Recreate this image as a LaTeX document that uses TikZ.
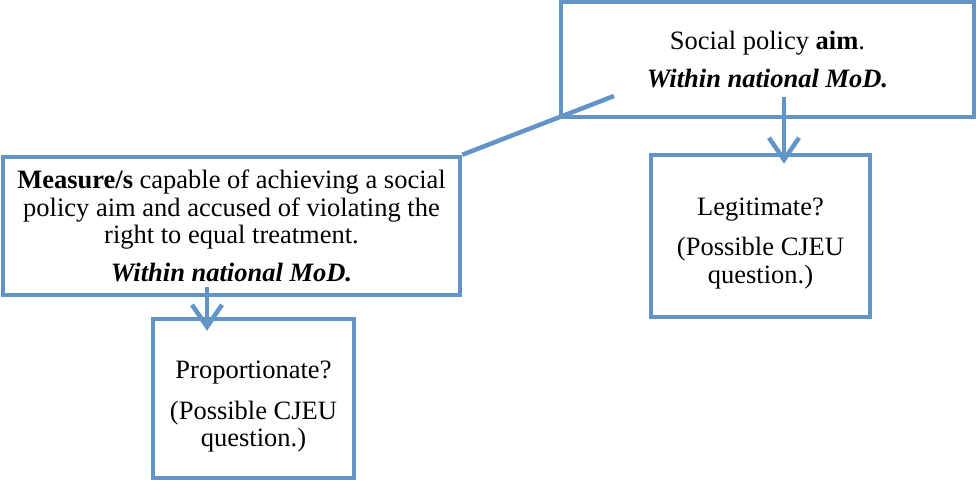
\documentclass[tikz,border=0pt]{standalone}
\usepackage{fontspec}
\setmainfont{Liberation Serif}
\usepackage{xcolor}
\usetikzlibrary{arrows.meta,positioning,calc}
\definecolor{boxblue}{RGB}{98,148,200}

\begin{document}
\begin{tikzpicture}[x=1pt, y=-1pt,
    box/.style={draw=boxblue, line width=4.5pt, fill=white, inner sep=0pt, align=center,
      font=\fontsize{26.5}{27.5}\selectfont},
    flow/.style={draw=boxblue, line width=4.5pt, -{Straight Barb[length=22pt, width=30pt, line width=4.5pt]}},
    link/.style={draw=boxblue, line width=4.5pt}]
  \useasboundingbox (0,0) rectangle (977,483);

  % Boxes
  \node[box, minimum width=413pt, minimum height=115pt] (aim) at (767.5,59.5)
    {Social policy \textbf{aim}.\\[11pt] \textbf{\textit{Within national MoD.}}};
  \node[box, minimum width=457pt, minimum height=138pt] (measure) at (231.5,226)
    {\textbf{Measure/s} capable of achieving a social\\ policy aim and accused of violating the\\
     right to equal treatment.\\[10pt] \textbf{\textit{Within national MoD.}}};
  \node[box, minimum width=219pt, minimum height=162pt] (legit) at (760.5,236)
    {\rule{0pt}{32pt}Legitimate?\\[13pt] (Possible CJEU\\ question.)};
  \node[box, minimum width=201pt, minimum height=159pt] (prop) at (253.5,398.5)
    {\rule{0pt}{34pt}Proportionate?\\[13pt] (Possible CJEU\\ question.)};

  % Connectors
  \coordinate (aimtail) at (614,96);
  \coordinate (aimdrop) at (784,97);
  \coordinate (measdrop) at (207,287);
  \draw[link] (aimtail) -- (measure.north east);
  \draw[flow] (aimdrop) -- ([yshift=-11pt]aimdrop |- legit.north);
  \draw[flow] (measdrop) -- ([yshift=-14pt]measdrop |- prop.north);
\end{tikzpicture}
\end{document}
